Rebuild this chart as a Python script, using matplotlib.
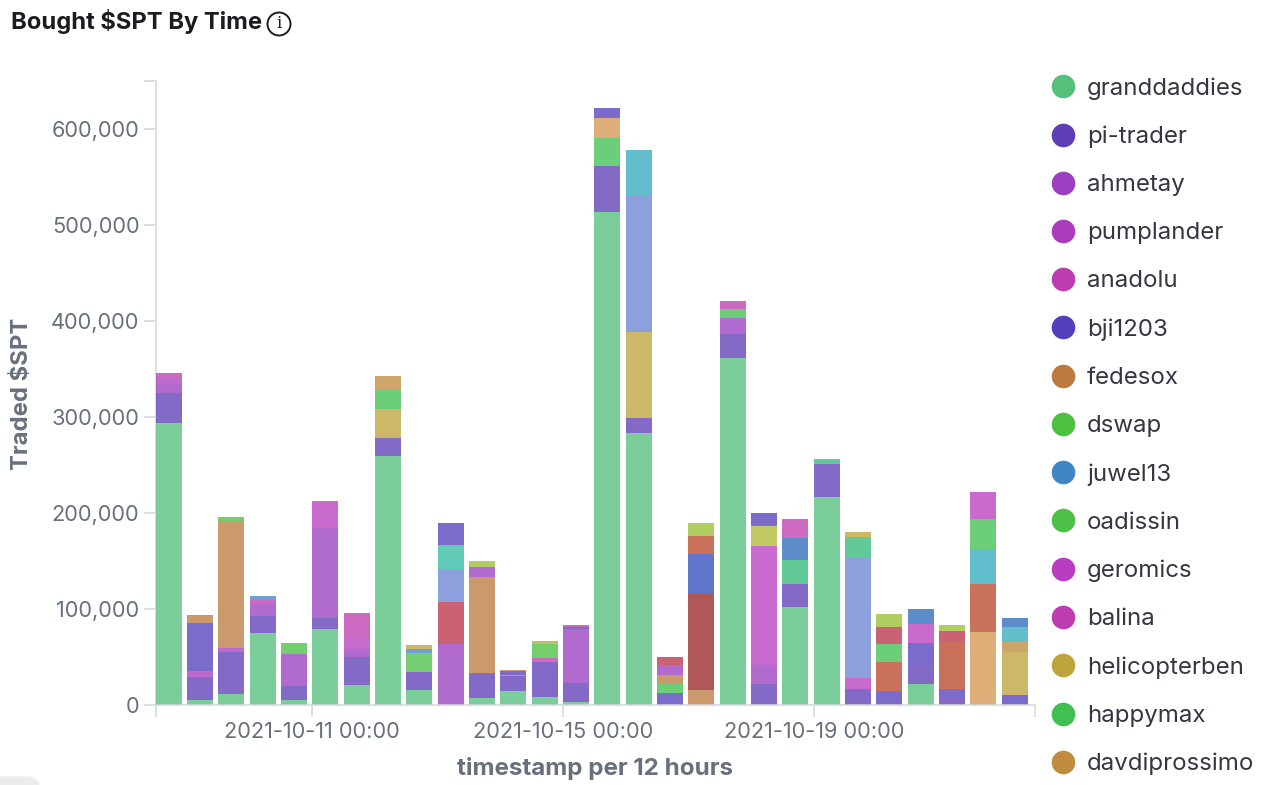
import matplotlib
matplotlib.use('Agg')
import matplotlib.pyplot as plt
import matplotlib.dates as mdates
from matplotlib.lines import Line2D
from matplotlib.patches import FancyBboxPatch
from matplotlib.transforms import IdentityTransform
import pandas as pd

plt.rcParams['font.family'] = ['Inter', 'DejaVu Sans']

# legend names (the list is cut off in the original, the rest of the colours have no name)
legend_names = ['granddaddies', 'pi-trader', 'ahmetay', 'pumplander', 'anadolu', 'bji1203',
                'fedesox', 'dswap', 'juwel13', 'oadissin', 'geromics', 'balina',
                'helicopterben', 'happymax', 'davdiprossimo']

buckets = pd.date_range('2021-10-08 12:00', periods=28, freq='12h')

# series in each bar, bottom to top
bar_series = [
    ['granddaddies', 'pi-trader', 'ahmetay', 'pumplander', 'anadolu'],
    ['granddaddies', 'pi-trader', 'pumplander', 'bji1203', 'fedesox'],
    ['granddaddies', 'pi-trader', 'pumplander', 'fedesox', 'dswap'],
    ['granddaddies', 'pi-trader', 'ahmetay', 'anadolu', 'juwel13'],
    ['granddaddies', 'pi-trader', 'ahmetay', 'dswap'],
    ['granddaddies', 'pi-trader', 'ahmetay', 'balina', 'geromics'],
    ['granddaddies', 'pi-trader', 'ahmetay', 'geromics', 'balina'],
    ['granddaddies', 'pi-trader', 'helicopterben', 'happymax', 'davdiprossimo'],
    ['granddaddies', 'pi-trader', 'oadissin', 'juwel13', 'helicopterben'],
    ['ahmetay', 'other-red', 'other-periwinkle', 'other-teal', 'bji1203'],
    ['granddaddies', 'pi-trader', 'fedesox', 'ahmetay', 'other-lime'],
    ['granddaddies', 'pi-trader', 'other-periwinkle', 'pi-trader', 'fedesox'],
    ['granddaddies', 'pi-trader', 'anadolu', 'dswap', 'helicopterben'],
    ['granddaddies', 'pi-trader', 'ahmetay', 'pi-trader', 'anadolu'],
    ['granddaddies', 'pi-trader', 'happymax', 'other-tan', 'bji1203'],
    ['granddaddies', 'pi-trader', 'helicopterben', 'other-periwinkle', 'other-cyan'],
    ['bji1203', 'happymax', 'fedesox', 'ahmetay', 'other-red'],
    ['fedesox', 'other-darkred', 'other-blue', 'other-salmon', 'other-lime'],
    ['granddaddies', 'pi-trader', 'ahmetay', 'happymax', 'balina'],
    ['pi-trader', 'ahmetay', 'geromics', 'other-olive', 'bji1203'],
    ['granddaddies', 'pi-trader', 'other-jade', 'other-steel', 'balina'],
    ['granddaddies', 'pi-trader', 'other-jade'],
    ['pi-trader', 'geromics', 'other-periwinkle', 'other-jade', 'helicopterben'],
    ['bji1203', 'other-salmon', 'happymax', 'other-red', 'other-lime'],
    ['granddaddies', 'pi-trader', 'bji1203', 'geromics', 'other-steel'],
    ['pi-trader', 'bji1203', 'other-salmon', 'other-red', 'other-lime'],
    ['other-tan', 'other-salmon', 'other-cyan', 'happymax', 'geromics'],
    ['bji1203', 'helicopterben', 'davdiprossimo', 'other-cyan', 'other-steel'],
]

# traded amounts, same order as bar_series
bar_values = [
    [294000, 31000, 9000, 7000, 5000],
    [5000, 24000, 6000, 50000, 9000],
    [11500, 44000, 3500, 132500, 4500],
    [75000, 18000, 12000, 4500, 4500],
    [5000, 15000, 33000, 12000],
    [79000, 12000, 93000, 3500, 24500],
    [21000, 28500, 8500, 12000, 26000],
    [259000, 19000, 30000, 20000, 14500],
    [16000, 18500, 19500, 4500, 3500],
    [64000, 43500, 34500, 25000, 22500],
    [7500, 25500, 100000, 11000, 6000],
    [15000, 15000, 1500, 3500, 1000],
    [8000, 37000, 4000, 15000, 2500],
    [3000, 20000, 56000, 2500, 1500],
    [513500, 48000, 29500, 20000, 11000],
    [283000, 16000, 89500, 142500, 47000],
    [12000, 9500, 10000, 10000, 8500],
    [16000, 99500, 41500, 19000, 14000],
    [361500, 25000, 17000, 9000, 8500],
    [22000, 19500, 124500, 20000, 14500],
    [102500, 23500, 25000, 23000, 19500],
    [216500, 34500, 5000],
    [17000, 11000, 125500, 22000, 5000],
    [15000, 29500, 19500, 17000, 14000],
    [22000, 19500, 23500, 19000, 15500],
    [7000, 10000, 49000, 11000, 6000],
    [76000, 50000, 37000, 31000, 28000],
    [10000, 45000, 11000, 15000, 10000],
]

y_ticks = [0, 100000, 200000, 300000, 400000, 500000, 600000]
date_ticks = ['2021-10-11 00:00', '2021-10-15 00:00', '2021-10-19 00:00']

colors = {
    'granddaddies': '#54c07c', 'pi-trader': '#5e3db5', 'ahmetay': '#9a3fc0',
    'pumplander': '#a93dbd', 'anadolu': '#bd3db0', 'bji1203': '#5340bc',
    'fedesox': '#bd7a40', 'dswap': '#4cc040', 'juwel13': '#4085c4',
    'oadissin': '#4cc048', 'geromics': '#b83dc0', 'balina': '#bd3db0',
    'helicopterben': '#bfa33d', 'happymax': '#40c050', 'davdiprossimo': '#c08c40',
    'other-red': '#bb3349', 'other-periwinkle': '#6884d3', 'other-teal': '#33bca2',
    'other-lime': '#99bf33', 'other-tan': '#d49650', 'other-cyan': '#33aabf',
    'other-darkred': '#992525', 'other-blue': '#334cbf', 'other-salmon': '#bb472b',
    'other-steel': '#2b6bbb', 'other-jade': '#33bb77', 'other-olive': '#afbb33',
}

axis_color = '#d3d6dc'
label_color = '#69707d'

fig = plt.figure(figsize=(12.8, 7.85), dpi=100)
ax = fig.add_axes([155.5 / 1280, 1 - 705 / 785, 879.5 / 1280, 624 / 785])

starts = mdates.date2num(buckets)
bucket_days = starts[1] - starts[0]
for start, series, values in zip(starts, bar_series, bar_values):
    bottom = 0
    for name, value in zip(series, values):
        ax.bar(start, value, width=bucket_days * 0.83, bottom=bottom, align='edge',
               color=colors[name], alpha=0.77, linewidth=0)
        bottom += value

ax.set_xlim(starts[0], starts[0] + bucket_days * 28.06)
ax.set_ylim(0, 650000)

for side in ['top', 'right']:
    ax.spines[side].set_visible(False)
for side in ['left', 'bottom']:
    ax.spines[side].set_color(axis_color)
    ax.spines[side].set_linewidth(1.1)
ax.spines['left'].set_zorder(0.5)

ax.set_yticks(y_ticks + [650000])
ax.set_yticklabels([f'{v:,}' for v in y_ticks] + [''])
date_nums = [mdates.date2num(pd.Timestamp(d)) for d in date_ticks]
ax.set_xticks([ax.get_xlim()[0]] + date_nums + [ax.get_xlim()[1]])
ax.set_xticklabels([''] + date_ticks + [''])
ax.tick_params(axis='both', length=8.6, width=1.1, color=axis_color,
               labelcolor=label_color, labelsize=15.7, pad=3)
ax.tick_params(axis='x', pad=4)

fig.text(22 / 1280, 1 - 394 / 785, 'Traded $SPT', rotation=90, ha='center', va='center',
         fontsize=17.2, fontweight='bold', color=label_color)
fig.text(595 / 1280, 1 - 768 / 785, 'timestamp per 12 hours', ha='center', va='center',
         fontsize=17.4, fontweight='bold', color=label_color)

fig.text(11 / 1280, 1 - 22 / 785, 'Bought $SPT By Time', ha='left', va='center',
         fontsize=17.1, fontweight='bold', color='#1a1c21')
fig.text(279 / 1280, 1 - 24 / 785, 'i', ha='center', va='center', fontsize=12,
         family='DejaVu Serif', color='#1a1c21',
         bbox=dict(boxstyle='circle,pad=0.18', facecolor='white', edgecolor='#1a1c21', linewidth=1.4))

handles = [Line2D([], [], linestyle='', marker='o', markersize=17, markeredgewidth=0,
                  color=colors[name]) for name in legend_names]
fig.legend(handles, legend_names, loc='upper left', bbox_to_anchor=(1043 / 1280, 1 - 77 / 785),
           frameon=False, fontsize=17.3, labelcolor='#343741', borderpad=0, borderaxespad=0,
           handletextpad=0.17, labelspacing=1.085, handlelength=1.67)

# grey tab cut off at the bottom left corner
fig.add_artist(FancyBboxPatch((-20, -20), 55, 23, boxstyle='round,pad=0,rounding_size=8',
                              transform=IdentityTransform(), facecolor='#ececec', linewidth=8,
                              edgecolor='#ececec'))

fig.savefig('out.png', dpi=100)
